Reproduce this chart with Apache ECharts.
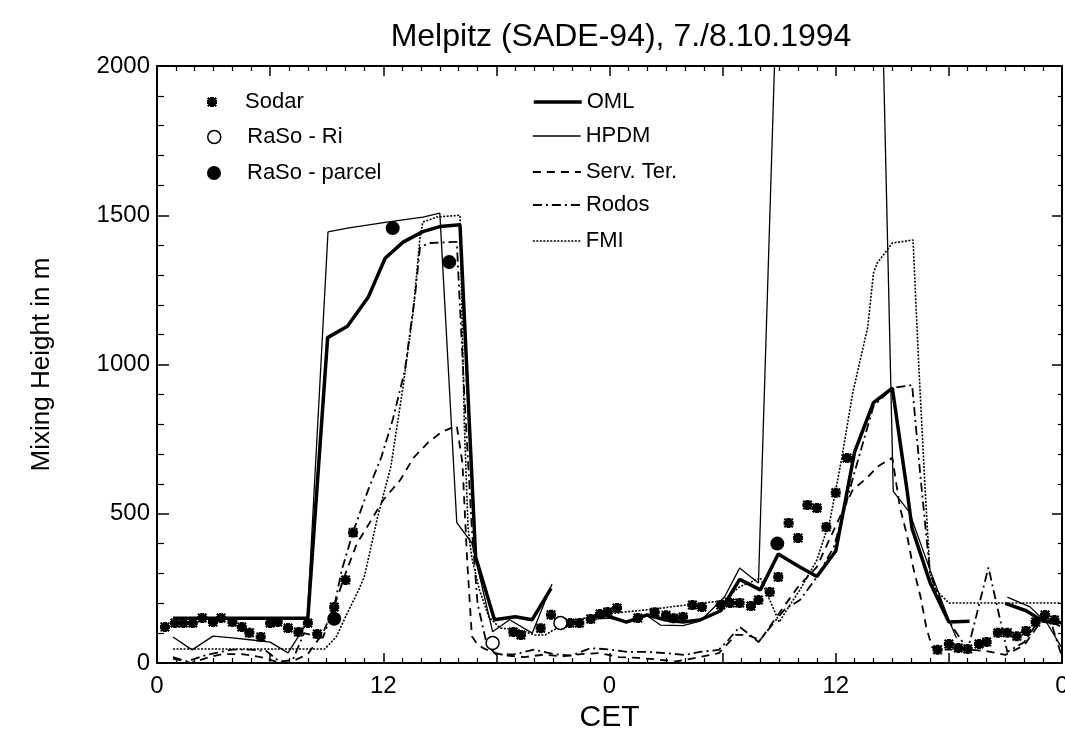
<!DOCTYPE html>
<html>
<head>
<meta charset="utf-8">
<title>Melpitz mixing height</title>
<script src="https://cdn.jsdelivr.net/npm/echarts@6.0.0/dist/echarts.min.js"></script>
<style>
  html, body { margin: 0; padding: 0; background: #fff; }
  #chart { width: 1065px; height: 736px; }
</style>
</head>
<body>
<div id="chart"></div>
<script>
// hours since 0 CET on 7.10.1994, mixing height in m
const sodar = [
  [0.42, 121], [0.95, 134], [1.4, 134], [1.9, 134], [2.4, 151], [2.97, 137], [3.4, 151], [4.0, 137],
  [4.5, 121], [4.9, 101], [5.5, 87], [6.0, 134], [6.4, 137], [6.95, 117], [7.5, 104], [8.0, 134],
  [8.5, 97], [9.4, 188], [10.0, 278], [10.4, 437],
  [18.9, 104], [19.3, 94], [20.35, 116], [20.9, 162], [21.9, 134], [22.4, 134], [23.0, 147], [23.5, 164],
  [23.9, 171], [24.4, 184], [25.5, 151], [26.4, 170], [27.0, 160], [27.4, 150], [27.9, 154], [28.4, 194],
  [28.9, 188], [29.9, 194], [30.4, 201], [30.9, 201], [31.5, 191], [31.9, 211], [32.5, 238], [32.95, 288],
  [33.5, 469], [34.0, 419], [34.5, 529], [35.0, 519], [35.5, 456], [36.0, 570], [36.6, 687],
  [41.4, 44], [42.0, 64], [42.5, 50], [43.0, 47], [43.6, 64], [44.0, 70], [44.6, 101], [45.1, 101],
  [45.6, 90], [46.1, 107], [46.6, 137], [47.1, 161], [47.6, 144]
]
const rasoRi = [[17.8, 67], [21.4, 134]]
const rasoParcel = [[9.4, 148], [12.5, 1457], [15.5, 1343], [32.9, 400]]

const oml = [
  [0.85, 150], [8, 150], [9.05, 1090], [10.1, 1128], [11.2, 1225], [12.1, 1356], [13.05, 1410],
  [14.1, 1445], [15, 1462], [16.07, 1468], [16.9, 355], [17.9, 145], [19, 155], [19.9, 145], [20.9, 250],
  [21.8, '-'],
  [22.8, 145], [23.5, 165], [24.9, 137], [26, 161], [27, 144], [27.9, 137], [28.8, 144], [29.9, 175],
  [30.9, 280], [32, 245], [32.95, 365], [34, 325], [35, 290], [36, 375], [37, 707], [38, 872], [39, 921],
  [39.8, 570], [40.05, 450], [41, 270], [42, 137], [43.1, 140],
  [44, '-'],
  [45, 200], [46.1, 175], [47, 140], [48, 135]
]
const hpdm = [
  [0.85, 87], [1.86, 44], [2.97, 90], [4, 84], [5.04, 77], [6, 70], [6.95, 34], [7.96, 135],
  [9.07, 1444], [10.1, 1457], [12.2, 1477], [14.1, 1494], [15, 1507], [15.9, 470], [16.7, 402],
  [17.8, 105], [18.7, 145], [19.9, 100], [20.95, 265],
  [21.8, '-'],
  [22.8, 145], [24, 150], [24.9, 140], [26, 158], [26.7, 127], [27.9, 125], [28.8, 140], [30.1, 221],
  [30.9, 318], [31.9, 268], [32.8, 2100], [38.5, 2100], [39.05, 575], [39.9, 506], [41, 312], [42, 144],
  [42.4, 84],
  [44, '-'],
  [45.1, 221], [46.3, 188], [47.2, 134], [48, 50]
]
const servTer = [
  [0.85, 15], [1.8, 0], [2.8, 20], [3.5, 30], [4.5, 30], [5.5, 20], [6.3, 5], [7, 0], [8, 30],
  [8.8, 100], [9.4, 190], [10, 300], [10.6, 400], [11.3, 472], [12, 546], [12.9, 613], [13.6, 687],
  [14.4, 740], [15.1, 774], [15.9, 795], [16.2, 670], [16.45, 345], [16.7, 90], [17, 62], [17.3, 50],
  [17.8, 35], [18.5, 25], [19.5, 20], [20.5, 28], [21.5, 22], [22.5, 30], [23.5, 33], [24.5, 20],
  [25.5, 17], [26.5, 12], [27.5, 5], [28.8, 20], [29.8, 33], [30.7, 94], [31.3, 94], [32, 77],
  [33, 167], [34, 255], [35, 322], [36, 460], [36.9, 580], [37.7, 623], [38.2, 657], [39, 688],
  [39.4, 523], [39.8, 422], [40.1, 322], [40.5, 221], [40.8, 121], [41.1, 54], [41.4, 44], [42, 45],
  [43, 45], [44, 40], [45, 27], [46, 60], [47, 150], [48, 120]
]
const rodos = [
  [0.85, 20], [1.6, 5], [2.5, 25], [3.2, 35], [4, 45], [5, 45], [5.8, 40], [6.5, 5], [7.2, 10],
  [7.8, 100], [8.8, 85], [9.4, 190], [9.8, 311], [10.4, 439], [11.2, 580], [11.9, 690], [12.5, 814],
  [13.15, 982], [13.7, 1239], [13.95, 1394], [14.5, 1407], [15.9, 1411], [16.3, 900], [16.7, 450],
  [17, 200], [17.5, 60], [18, 28], [19, 30], [20, 45], [21, 30], [22, 25], [23, 50], [24, 45], [25, 37],
  [26, 37], [27, 33], [28, 27], [28.8, 37], [29.8, 44], [30.3, 77], [30.9, 121], [31.6, 87], [31.9, 70],
  [32.7, 134], [33.3, 180], [34.1, 211], [35, 288], [35.9, 389], [36.5, 523], [37, 640], [38, 860],
  [39, 921], [40.05, 931], [40.5, 620], [41, 300], [42, 140], [43, 44], [44.1, 320], [45.1, 37],
  [46, 70], [47, 165], [47.5, 120], [48, 20]
]
const fmi = [
  [0.85, 47], [8.9, 47], [9.5, 87], [10.1, 168], [10.7, 245], [11, 290], [11.7, 489], [12.4, 657],
  [13.05, 925], [13.6, 1183], [13.95, 1427], [14.1, 1477], [14.85, 1494], [16.07, 1500], [16.3, 800],
  [16.5, 450], [16.7, 352], [17.1, 245], [17.6, 154], [18.2, 117], [19.3, 110], [20, 94], [20.6, 94],
  [21, 110], [21.4, 121], [22, 140], [23, 155], [24, 165], [25, 172], [26.3, 180], [27.5, 190],
  [28.4, 197], [30, 208], [30.9, 255], [32, 285], [33, 137], [33.4, 178], [34.1, 245], [35, 345],
  [35.7, 480], [36, 580], [36.3, 680], [36.9, 905], [37.7, 1126], [38, 1306], [38.2, 1340],
  [38.6, 1373], [39, 1407], [40.1, 1417], [40.4, 1000], [40.75, 570], [41, 300], [41.3, 245],
  [42, 201], [48, 201]
]

const font = 'Liberation Sans, Arial, sans-serif'

const chart = echarts.init(document.getElementById('chart'))

const legendAt = (name, left, top, width, height, extra) => Object.assign({
  data: [name],
  left: left,
  top: top,
  padding: 0,
  itemWidth: width,
  itemHeight: height,
  selectedMode: false,
  textStyle: { color: '#000', fontSize: 22, fontFamily: font },
}, extra || {})

// line legends: hide the marker echarts puts in the middle, keep the line at series width
const lineLegend = (name, top, width, type) => legendAt(name, 532, top, 48, 14, {
  itemStyle: { color: 'rgba(0,0,0,0)', borderWidth: 0, opacity: 0 },
  lineStyle: { color: '#000', width: width, type: type },
})

const axisCommon = {
  type: 'value',
  axisLine: { show: true, onZero: false, lineStyle: { color: '#000', width: 2 } },
  axisTick: { show: true, inside: true, length: 10, lineStyle: { color: '#000', width: 1.5 } },
  minorTick: { show: true, length: 5, lineStyle: { color: '#000', width: 1.2 } },
  splitLine: { show: false },
  minorSplitLine: { show: false },
}

const lineSeries = (name, data, width, type) => ({
  name: name,
  type: 'line',
  data: data,
  symbol: 'none',
  showSymbol: false,
  connectNulls: false,
  clip: true,
  color: '#000',
  lineStyle: { color: '#000', width: width, type: type },
  z: 3,
})

const asterisk =
  'path://M3,0L7,0L7,3L10,3L10,7L7,7L7,10L3,10L3,7L0,7L0,3L3,3Z' +
  'M1.5,0L5,3.5L8.5,0L10,1.5L6.5,5L10,8.5L8.5,10L5,6.5L1.5,10L0,8.5L3.5,5L0,1.5Z'

const option = {
  backgroundColor: '#fff',
  animation: false,
  title: {
    text: 'Melpitz (SADE-94), 7./8.10.1994',
    left: 616,
    top: 16,
    textAlign: 'center',
    textStyle: { color: '#000', fontSize: 32, fontWeight: 'normal', fontFamily: font },
  },
  legend: [
    legendAt('Sodar', 207, 91, 56, 10),
    legendAt('RaSo - Ri', 207, 126, 56, 13, { itemStyle: { color: '#fff', borderColor: '#000', borderWidth: 1.5 } }),
    legendAt('RaSo - parcel', 207, 162, 56, 14),
    lineLegend('OML', 91, 3.5, 'solid'),
    lineLegend('HPDM', 125, 1.3, 'solid'),
    lineLegend('Serv. Ter.', 161, 1.8, [8, 6]),
    lineLegend('Rodos', 194, 1.8, [9, 4, 2, 4]),
    lineLegend('FMI', 230, 1.6, [2, 1.5]),
  ],
  grid: { left: 157, right: 3, top: 66, bottom: 73, outerBoundsMode: 'none', containLabel: false },
  xAxis: [
    Object.assign({}, axisCommon, {
      position: 'bottom',
      min: 0,
      max: 48,
      interval: 6,
      minorTick: Object.assign({}, axisCommon.minorTick, { splitNumber: 6 }),
      axisLabel: {
        color: '#000',
        fontSize: 24,
        fontFamily: font,
        margin: 11,
        formatter: v => (v % 12 === 0 ? String(v % 24) : ''),
      },
      name: 'CET',
      nameLocation: 'middle',
      nameGap: 40,
      nameTextStyle: { color: '#000', fontSize: 30, fontFamily: font },
    }),
    Object.assign({}, axisCommon, {
      position: 'top',
      min: 0,
      max: 48,
      interval: 6,
      minorTick: Object.assign({}, axisCommon.minorTick, { splitNumber: 6 }),
      axisLabel: { show: false },
    }),
  ],
  yAxis: [
    Object.assign({}, axisCommon, {
      position: 'left',
      min: 0,
      max: 2000,
      interval: 500,
      axisTick: Object.assign({}, axisCommon.axisTick, { length: 12 }),
      minorTick: Object.assign({}, axisCommon.minorTick, { splitNumber: 5, length: 7 }),
      axisLabel: { color: '#000', fontSize: 24, fontFamily: font, margin: 7, formatter: v => String(v) },
      name: 'Mixing Height in m',
      nameLocation: 'middle',
      nameGap: 102,
      nameTextStyle: { color: '#000', fontSize: 26, fontFamily: font },
    }),
    Object.assign({}, axisCommon, {
      position: 'right',
      min: 0,
      max: 2000,
      interval: 500,
      minorTick: Object.assign({}, axisCommon.minorTick, { splitNumber: 5, length: 4 }),
      axisLabel: { show: false },
    }),
  ],
  series: [
    lineSeries('OML', oml, 3.5, 'solid'),
    lineSeries('HPDM', hpdm, 1.3, 'solid'),
    lineSeries('Serv. Ter.', servTer, 1.8, [8, 6]),
    lineSeries('Rodos', rodos, 1.8, [9, 4, 2, 4]),
    lineSeries('FMI', fmi, 1.6, [2, 1.5]),
    {
      name: 'Sodar',
      type: 'scatter',
      data: sodar,
      symbol: asterisk,
      symbolSize: 10,
      symbolKeepAspect: true,
      itemStyle: { color: '#000', opacity: 1 },
      z: 4,
    },
    {
      name: 'RaSo - Ri',
      type: 'scatter',
      data: rasoRi,
      symbol: 'circle',
      symbolSize: 13,
      itemStyle: { color: '#fff', borderColor: '#000', borderWidth: 1.5, opacity: 1 },
      z: 5,
    },
    {
      name: 'RaSo - parcel',
      type: 'scatter',
      data: rasoParcel,
      symbol: 'circle',
      symbolSize: 14,
      itemStyle: { color: '#000', opacity: 1 },
      z: 5,
    },
  ],
}

chart.setOption(option)
</script>
</body>
</html>
